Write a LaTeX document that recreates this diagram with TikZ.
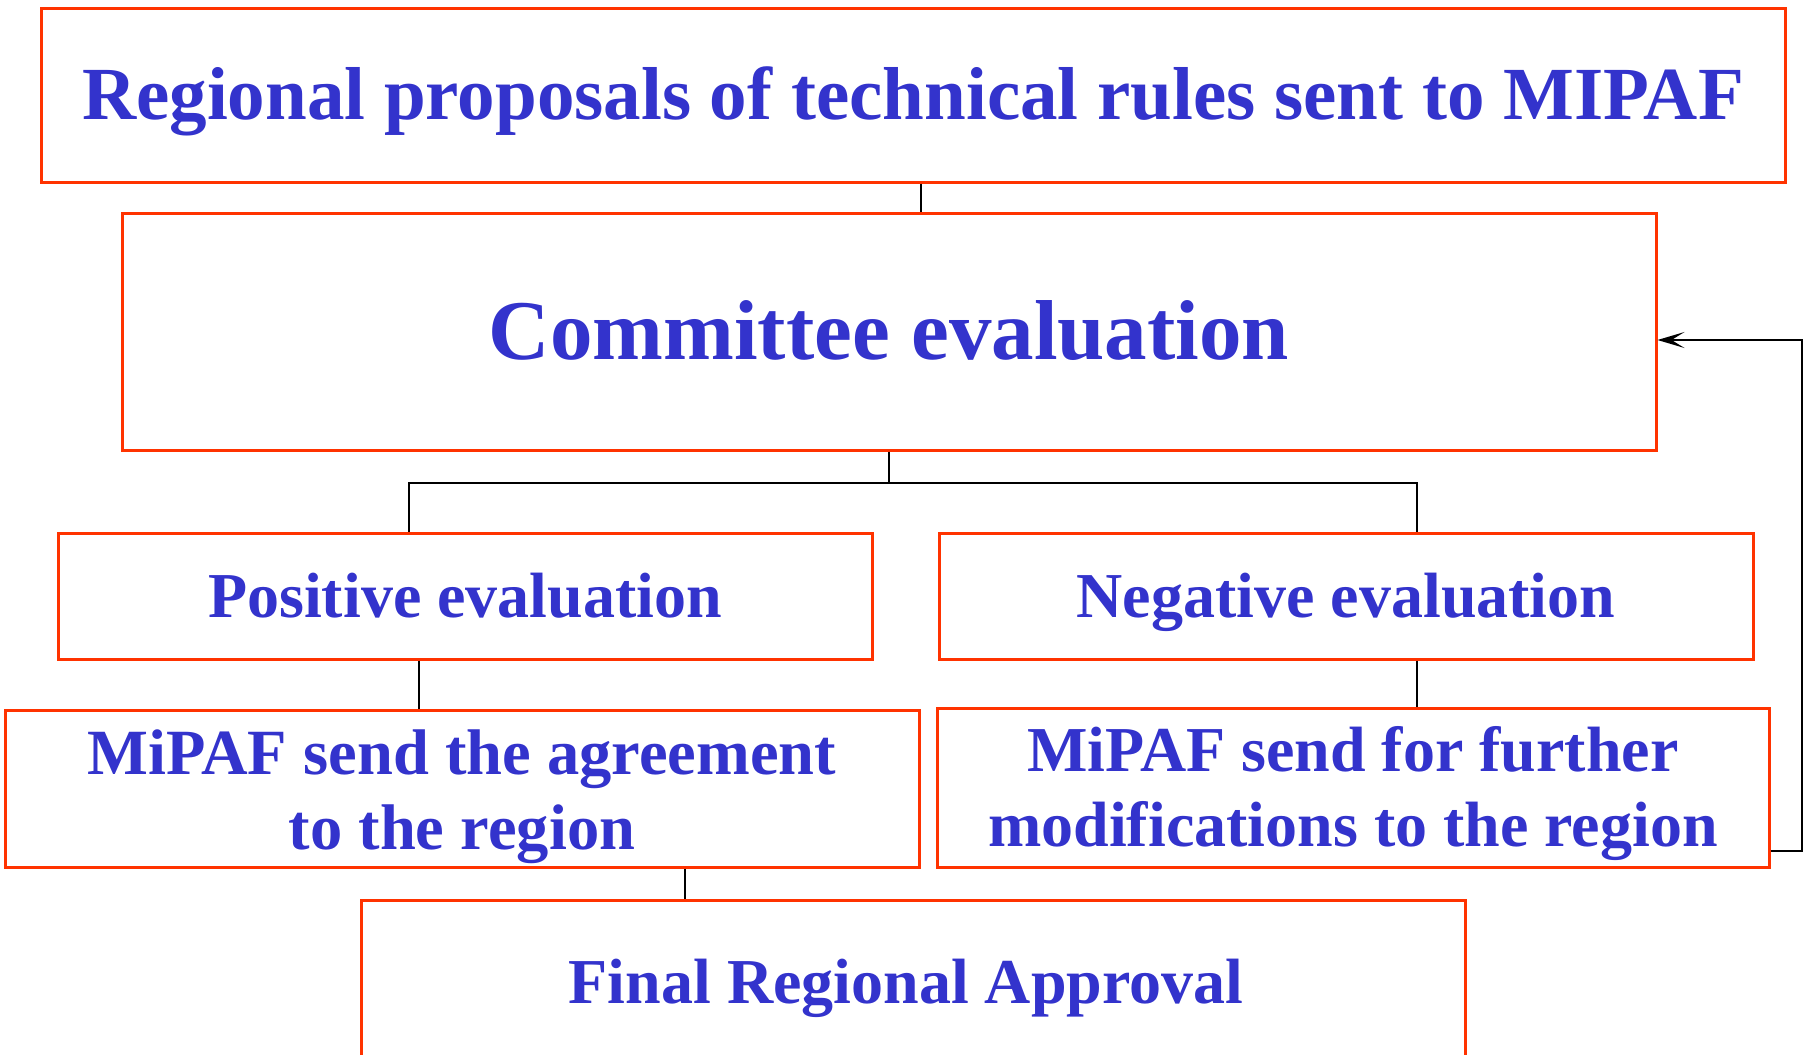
\documentclass[tikz,border=0pt]{standalone}
\usepackage{fontspec}
\setmainfont{Liberation Serif}
\usetikzlibrary{arrows.meta}
\definecolor{boxred}{RGB}{255,51,0}
\definecolor{txtblue}{RGB}{51,51,204}
\begin{document}
\begin{tikzpicture}[x=1pt,y=-1pt,
  stage/.style={draw=boxred, line width=3pt, inner sep=0pt, text=txtblue,
    font=\bfseries, align=center, text depth=0pt},
  link/.style={draw=black, line width=2pt},
  back/.style={link, -{Stealth[length=27pt,width=16pt,inset=13pt]}}]
\useasboundingbox (0,0) rectangle (1808,1055);
\clip (0,0) rectangle (1808,1055);

% boxes
\node[stage, minimum width=1744, minimum height=174, text height=49pt,
  font=\bfseries\fontsize{75}{90}\selectfont] (top) at (913,95)
  {Regional proposals of technical rules sent to MIPAF};
\node[stage, minimum width=1534, minimum height=237, text height=56pt,
  font=\bfseries\fontsize{85}{100}\selectfont] (comm) at (889,331.5)
  {Committee evaluation};
\node[stage, minimum width=814, minimum height=126, text height=42pt,
  font=\bfseries\fontsize{64}{75}\selectfont] (pos) at (465,596)
  {Positive evaluation};
\node[stage, minimum width=814, minimum height=126, text height=42pt,
  font=\bfseries\fontsize{64}{75}\selectfont] (neg) at (1346,596)
  {Negative evaluation};
\node[stage, minimum width=914, minimum height=157, text height=137pt, text depth=,
  font=\bfseries\fontsize{64.5}{75}\selectfont] (agr) at (462,788.5)
  {MiPAF send the agreement\\to the region};
\node[stage, minimum width=832, minimum height=159, text height=133pt, text depth=,
  font=\bfseries\fontsize{64}{75}\selectfont] (fur) at (1353,787.5)
  {MiPAF send for further\\modifications to the region};
\node[stage, minimum width=1104, minimum height=164, text height=42pt,
  font=\bfseries\fontsize{64}{75}\selectfont] (fin) at (913,982)
  {Final Regional Approval\hspace*{14pt}};

% junction points of the connectors
\coordinate (t1) at (921,0);
\coordinate (jl) at (409,483);
\coordinate (jr) at (1417,483);
\coordinate (p1) at (419,0);
\coordinate (f1) at (685,0);
\coordinate (r1) at (1802,851);
\coordinate (r2) at (1802,340);

% connectors
\draw[link] (t1 |- top.south) -- (t1 |- comm.north);
\draw[link] (comm.south) -- (comm.south |- jl);
\draw[link] (jl |- pos.north) -- (jl) -- (jr) -- (jr |- neg.north);
\draw[link] (p1 |- pos.south) -- (p1 |- agr.north);
\draw[link] (jr |- neg.south) -- (jr |- fur.north);
\draw[link] (f1 |- agr.south) -- (f1 |- fin.north);
\draw[back] (fur.east |- r1) -- (r1) -- (r2) -- (comm.east |- r2);
\end{tikzpicture}
\end{document}
